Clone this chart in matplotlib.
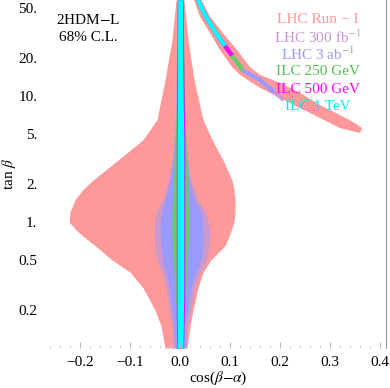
import matplotlib.pyplot as plt
from matplotlib.ticker import FixedLocator, MultipleLocator, NullLocator

plt.rcParams['font.family'] = ['Liberation Serif', 'DejaVu Serif']
plt.rcParams['mathtext.fontset'] = 'stix'

# central (right-sign) region, left/right edge in cos(beta-alpha) per tan(beta)
tanb = [0.1, 0.15, 0.2, 0.3, 0.4, 0.5, 0.65, 0.75, 0.85, 1.0, 1.2, 1.5, 1.8, 2.15, 3.1, 4.5, 6.5, 13.4, 28, 58]
run1_lo = [-0.03, -0.038, -0.05, -0.074, -0.1, -0.136, -0.17, -0.19, -0.206, -0.222, -0.22, -0.21, -0.195, -0.174,
           -0.124, -0.074, -0.046, -0.03, -0.016, -0.008]
run1_hi = [0.014, 0.02, 0.026, 0.036, 0.046, 0.062, 0.09, 0.097, 0.102, 0.108, 0.11, 0.11, 0.108, 0.104,
           0.086, 0.064, 0.046, 0.028, 0.016, 0.008]
lhc300_lo = [-0.014, -0.016, -0.022, -0.028, -0.036, -0.046, -0.05, -0.051, -0.052, -0.051, -0.048, -0.034, -0.028, -0.022,
             -0.016, -0.012, -0.01, -0.008, -0.006, -0.006]
lhc300_hi = [0.012, 0.014, 0.022, 0.03, 0.04, 0.054, 0.058, 0.06, 0.06, 0.057, 0.052, 0.036, 0.029, 0.022,
             0.016, 0.012, 0.01, 0.008, 0.007, 0.006]
lhc3000_lo = [-0.01, -0.012, -0.016, -0.022, -0.028, -0.034, -0.038, -0.039, -0.04, -0.039, -0.036, -0.03, -0.025, -0.02,
              -0.014, -0.01, -0.008, -0.006, -0.005, -0.005]
lhc3000_hi = [0.01, 0.01, 0.016, 0.022, 0.032, 0.042, 0.046, 0.046, 0.046, 0.045, 0.042, 0.028, 0.023, 0.018,
              0.014, 0.01, 0.008, 0.007, 0.006, 0.0055]
ilc250_lo = [-0.006, -0.007, -0.008, -0.01, -0.012, -0.014, -0.015, -0.0155, -0.016, -0.016, -0.016, -0.014, -0.0135, -0.013,
             -0.012, -0.01, -0.008, -0.006, -0.0055, -0.005]
ilc250_hi = [0.006, 0.008, 0.01, 0.012, 0.014, 0.014, 0.016, 0.017, 0.018, 0.018, 0.018, 0.016, 0.016, 0.016,
             0.014, 0.012, 0.01, 0.008, 0.007, 0.006]
ilc500_lo = [-0.006, -0.007, -0.0075, -0.0075, -0.0075, -0.0075, -0.0075, -0.0075, -0.0075, -0.0075, -0.0075, -0.0075,
             -0.0075, -0.0075, -0.0075, -0.0075, -0.007, -0.0065, -0.006, -0.0055]
ilc500_hi = [0.007, 0.008, 0.009, 0.0095, 0.0095, 0.0095, 0.0095, 0.0095, 0.0095, 0.0095, 0.0095, 0.0095,
             0.0095, 0.0095, 0.0095, 0.0095, 0.009, 0.008, 0.007, 0.006]
ilc1000_lo = [-0.005, -0.0055, -0.006, -0.006, -0.006, -0.006, -0.006, -0.006, -0.006, -0.006, -0.006, -0.006,
              -0.006, -0.006, -0.006, -0.006, -0.0055, -0.005, -0.005, -0.0045]
ilc1000_hi = [0.006, 0.0065, 0.007, 0.0075, 0.0075, 0.0075, 0.0075, 0.0075, 0.0075, 0.0075, 0.0075, 0.0075,
              0.0075, 0.0075, 0.0075, 0.0075, 0.007, 0.006, 0.0055, 0.005]

# wrong-sign branch of LHC Run-I: outline (upper edge to the tip, then back along the lower edge)
branch_c = [0.043, 0.06, 0.086, 0.114, 0.14, 0.16, 0.2, 0.24, 0.28, 0.32, 0.35, 0.364,
            0.36, 0.32, 0.28, 0.24, 0.2, 0.16, 0.12, 0.104, 0.08, 0.06, 0.04, 0.028]
branch_tb = [57.8, 42.6, 31.6, 23.2, 17.0, 14.7, 12.7, 10.6, 8.48, 7.06, 6.10, 5.57,
             5.08, 5.57, 6.69, 8.03, 9.64, 11.6, 14.7, 17.0, 23.2, 31.6, 42.6, 57.8]
# centre line of the future bands along the wrong-sign branch
ws_c = [0.036, 0.05, 0.072, 0.09, 0.104, 0.126, 0.16, 0.188, 0.208]
ws_tb = [57.8, 43.9, 31.6, 25.0, 21.0, 16.0, 13.4, 10.8, 9.3]
ws_end = [9.3, 10.8, 16.0, 21.0, 25.0]   # lowest tan(beta) reached by each future band

labels = ['LHC Run \u2212 I', 'LHC 300 fb$^{-1}$', 'LHC 3 ab$^{-1}$', 'ILC 250 GeV', 'ILC 500 GeV', 'ILC 1 TeV']
fill_colors = ['#ff9999', '#cc99cc', '#9999ff', '#66cc66', '#ff00ff', '#00ffff']
text_colors = ['#ff9999', '#c896d2', '#9999ff', '#55bb55', '#ff00ff', '#00eeee']

fig = plt.figure(figsize=(3.9, 3.88), dpi=100)
ax = fig.add_axes([50 / 390, 1 - 348 / 388, 336 / 390, 348 / 388])

bands = [(run1_lo, run1_hi), (lhc300_lo, lhc300_hi), (lhc3000_lo, lhc3000_hi),
         (ilc250_lo, ilc250_hi), (ilc500_lo, ilc500_hi), (ilc1000_lo, ilc1000_hi)]
for (lo, hi), col in zip(bands, fill_colors):
    ax.fill_betweenx(tanb, lo, hi, color=col, lw=0)

ax.fill(branch_c, branch_tb, color=fill_colors[0], lw=0)
for end, col in zip(ws_end, fill_colors[1:]):
    cs = [c for c, t in zip(ws_c, ws_tb) if t >= end]
    ts = [t for t in ws_tb if t >= end]
    ax.plot(cs, ts, color=col, lw=3, solid_capstyle='butt')

ax.set_yscale('log')
ax.set_xlim(-0.26, 0.412)
ax.set_ylim(0.1, 57.8)

ax.yaxis.set_major_locator(FixedLocator([0.2, 0.5, 1, 2, 5, 10, 20, 50]))
ax.yaxis.set_minor_locator(NullLocator())
ax.set_yticklabels(['0.2', '0.5', '1.', '2.', '5.', '10.', '20.', '50.'])
ax.xaxis.set_major_locator(FixedLocator([-0.2, -0.1, 0.0, 0.1, 0.2, 0.3, 0.4]))
ax.xaxis.set_minor_locator(MultipleLocator(0.02))
ax.set_xticklabels(['\u22120.2', '\u22120.1', '0.0', '0.1', '0.2', '0.3', '0.4'])
ax.tick_params(axis='y', length=0, pad=9, labelsize=11)
ax.tick_params(axis='x', which='major', direction='in', length=4, color='#bbbbbb', pad=6, labelsize=11)
ax.tick_params(axis='x', which='minor', direction='in', length=2.5, color='#cccccc')

for side in ['left', 'top', 'bottom']:
    ax.spines[side].set_visible(False)
ax.spines['right'].set_color('#999999')

ax.set_xlabel(r'cos($\beta$$-$$\alpha$)', fontsize=11, labelpad=0)
ax.set_ylabel(r'tan $\beta$', fontsize=11, labelpad=0.5)

ax.text(0.113, 0.943, '2HDM$-$L', transform=ax.transAxes, ha='center', va='center', fontsize=11)
ax.text(0.113, 0.891, '68% C.L.', transform=ax.transAxes, ha='center', va='center', fontsize=11)
for i, (lab, col) in enumerate(zip(labels, text_colors)):
    ax.text(0.798, 0.943 - 0.0497 * i, lab, transform=ax.transAxes, ha='center', va='center',
            fontsize=11, color=col, zorder=5)

fig.savefig('out.png', dpi=100)
